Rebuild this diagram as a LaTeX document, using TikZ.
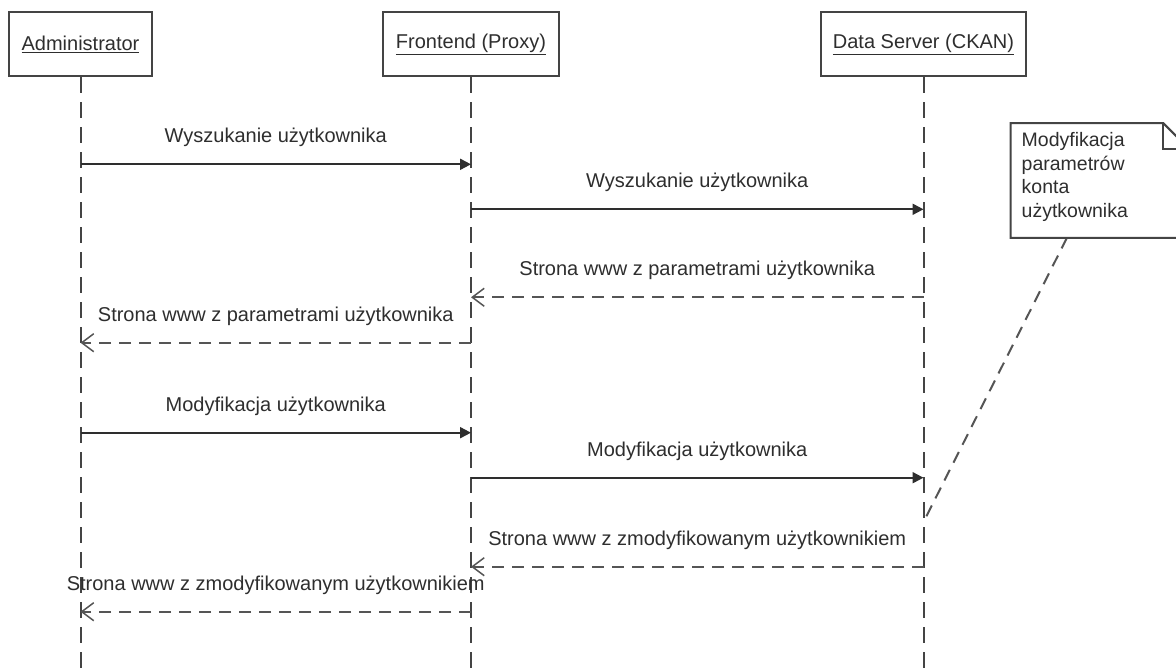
\documentclass[tikz,border=0pt]{standalone}
\usepackage{fontspec}
\setmainfont{Liberation Sans}
\usetikzlibrary{arrows.meta,calc}
\definecolor{ink}{HTML}{2E2E2E}
\definecolor{linegray}{HTML}{444444}
\definecolor{dashgray}{HTML}{555555}
\tikzset{
  actor/.style={draw=linegray, line width=2.4pt, fill=white, inner sep=0pt,
    text=ink, font=\fontsize{20}{24}\selectfont},
  lifeline/.style={draw=linegray, line width=2pt, dash pattern=on 16pt off 9pt},
  callmsg/.style={draw=ink, line width=2pt,
    -{Triangle[length=11pt,width=11pt]}},
  replymsg/.style={draw=dashgray, line width=2pt, dash pattern=on 12pt off 8pt,
    -{Straight Barb[length=12pt,width=18pt,line width=1.5pt]}},
  msglabel/.style={midway, yshift=26.5pt, text=ink, inner sep=0pt,
    font=\fontsize{20}{24}\selectfont},
  notetext/.style={text=ink, inner sep=0pt, align=left,
    font=\fontsize{19.5}{23.8}\selectfont},
  noteline/.style={draw=linegray, line width=2pt},
  notelink/.style={draw=dashgray, line width=2pt, dash pattern=on 12pt off 8pt}
}
\begin{document}
\begin{tikzpicture}[x=1pt,y=-1pt]
\useasboundingbox[fill=white] (0,0) rectangle (1176,671);

% participants
\node[actor, minimum width=143pt, minimum height=64pt] (adm) at (80.5,44) {\underline{Administrator}};
\node[actor, minimum width=176pt, minimum height=64pt] (fe) at (471,44) {\underline{Frontend (Proxy)}};
\node[actor, minimum width=205pt, minimum height=64pt] (ds) at (923.5,44) {\underline{Data Server (CKAN)}};

% lifeline ends
\coordinate (admEnd) at (80.5,675);
\coordinate (feEnd) at (471,675);
\coordinate (dsEnd) at (923.5,675);
\draw[lifeline] (adm.south) -- (admEnd);
\draw[lifeline] (fe.south) -- (feEnd);
\draw[lifeline] (ds.south) -- (dsEnd);

% message rows
\coordinate (r1) at (0,164.3);
\coordinate (r2) at (0,209.3);
\coordinate (r3) at (0,297.3);
\coordinate (r4) at (0,342.7);
\coordinate (r5) at (0,432.7);
\coordinate (r6) at (0,477.7);
\coordinate (r7) at (0,566.7);
\coordinate (r8) at (0,611.7);

\draw[callmsg] (adm |- r1) -- (fe |- r1)
  node[msglabel] (l1) {Wyszukanie użytkownika};
\draw[callmsg] (fe |- r2) -- (ds |- r2)
  node[msglabel] (l2) {Wyszukanie użytkownika};
\draw[replymsg] (ds |- r3) -- (fe |- r3)
  node[msglabel] (l3) {Strona www z parametrami użytkownika};
\draw[replymsg] (fe |- r4) -- (adm |- r4)
  node[msglabel] (l4) {Strona www z parametrami użytkownika};
\draw[callmsg] (adm |- r5) -- (fe |- r5)
  node[msglabel] (l5) {Modyfikacja użytkownika};
\draw[callmsg] (fe |- r6) -- (ds |- r6)
  node[msglabel] (l6) {Modyfikacja użytkownika};
\draw[replymsg] (ds |- r7) -- (fe |- r7)
  node[msglabel] (l7) {Strona www z zmodyfikowanym użytkownikiem};
\draw[replymsg] (fe |- r8) -- (adm |- r8)
  node[msglabel] (l8) {Strona www z zmodyfikowanym użytkownikiem};

% note with folded corner
\node[minimum width=178.3pt, minimum height=114.4pt, inner sep=0pt] (note) at (1099.85,180.5) {};
\coordinate (noteAnchor) at (1067,237.7);
\coordinate (dsHook) at (925,519);
\draw[notelink] (noteAnchor) -- (dsHook);
\fill[white] (note.north west) -- ($(note.north east)+(-26,0)$) -- ($(note.north east)+(0,26)$)
  -- (note.south east) -- (note.south west) -- cycle;
\draw[noteline] (note.north west) -- ($(note.north east)+(-26,0)$) -- ($(note.north east)+(0,26)$)
  -- (note.south east) -- (note.south west) -- cycle;
\draw[noteline] ($(note.north east)+(-26,0)$) -- ($(note.north east)+(-26,26)$) -- ($(note.north east)+(0,26)$);
\node[notetext, anchor=north west] (notebody) at (1021.5,132) {Modyfikacja\\parametrów\\konta\\użytkownika};
\end{tikzpicture}
\end{document}
